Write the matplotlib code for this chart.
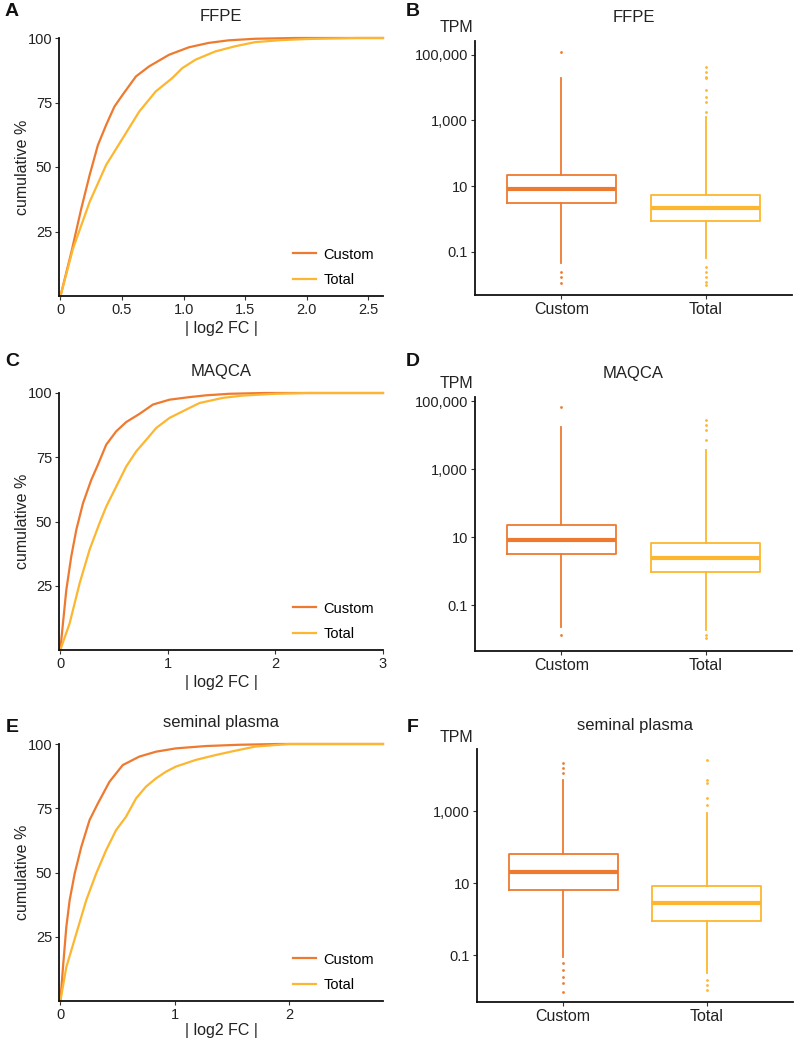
import matplotlib
matplotlib.use('Agg')
import matplotlib.pyplot as plt
import matplotlib.ticker as mticker

plt.rcParams['font.family'] = ['Liberation Sans', 'DejaVu Sans']

ORANGE = '#EE7A30'
YELLOW = '#FDB62F'

# --- ECDF curves (|log2 FC|, cumulative %) ---
ffpe_custom_x = [0, 0.089, 0.169, 0.237, 0.304, 0.371, 0.438, 0.505, 0.613, 0.72, 0.882,
                 1.043, 1.204, 1.366, 1.58, 1.9, 2.62]
ffpe_custom_y = [0, 17.1, 33.9, 46.9, 58.5, 66.3, 73.4, 78.0, 85.1, 89.0, 93.5,
                 96.4, 98.1, 99.1, 99.7, 100, 100]
ffpe_total_x = [0, 0.102, 0.237, 0.371, 0.505, 0.64, 0.774, 0.909, 0.989, 1.097, 1.258,
                1.419, 1.58, 1.8, 2.0, 2.4, 2.62]
ffpe_total_y = [0, 18.4, 36.5, 50.8, 61.1, 71.5, 79.3, 84.5, 88.3, 91.6, 94.8,
                96.8, 98.4, 99.2, 99.6, 100, 100]

maqca_custom_x = [0, 0.056, 0.102, 0.149, 0.211, 0.288, 0.35, 0.427, 0.52, 0.613, 0.737,
                  0.861, 1.015, 1.201, 1.356, 1.573, 1.9, 3.0]
maqca_custom_y = [0, 23.4, 36.4, 46.8, 57.1, 66.2, 72.1, 79.9, 85.1, 88.7, 91.9,
                  95.5, 97.4, 98.4, 99.1, 99.7, 100, 100]
maqca_total_x = [0, 0.087, 0.18, 0.272, 0.365, 0.427, 0.52, 0.613, 0.706, 0.799, 0.892,
                 1.015, 1.139, 1.294, 1.511, 1.697, 2.0, 2.3, 3.0]
maqca_total_y = [0, 10.4, 26.0, 39.0, 49.4, 55.8, 63.6, 71.4, 77.3, 81.8, 86.4,
                 90.3, 92.9, 96.1, 98.1, 99.0, 99.7, 100, 100]

semen_custom_x = [0, 0.023, 0.052, 0.081, 0.125, 0.183, 0.255, 0.328, 0.429, 0.545, 0.69,
                  0.835, 1.009, 1.27, 1.559, 1.9, 2.82]
semen_custom_y = [0, 13.2, 28.8, 39.2, 49.6, 60.0, 70.4, 76.9, 85.3, 91.8, 95.1,
                  97.0, 98.3, 99.2, 99.7, 100, 100]
semen_total_x = [0, 0.052, 0.139, 0.226, 0.313, 0.4, 0.487, 0.574, 0.661, 0.748, 0.835,
                 0.922, 1.009, 1.183, 1.357, 1.53, 1.704, 2.0, 2.82]
semen_total_y = [0, 13.2, 26.2, 39.2, 49.6, 58.7, 66.5, 71.7, 78.8, 83.4, 86.6,
                 89.2, 91.2, 93.8, 95.7, 97.4, 99.0, 100, 100]

# --- TPM boxplot summaries: q1, median, q3, whisker ends, outliers ---
ffpe_custom_box = dict(q1=3.05, med=8.1, q3=21.5, whislo=0.044, whishi=19000,
                       fliers=[0.0245, 0.017, 0.0112, 123000])
ffpe_total_box = dict(q1=0.87, med=2.15, q3=5.3, whislo=0.063, whishi=1290,
                      fliers=[0.035, 0.0245, 0.017, 0.012, 0.0095,
                              1860, 3720, 5300, 8500, 19000, 21000, 30000, 43000])

maqca_custom_box = dict(q1=3.16, med=8.1, q3=22.5, whislo=0.023, whishi=17000,
                        fliers=[0.013, 68000])
maqca_total_box = dict(q1=0.91, med=2.36, q3=6.5, whislo=0.018, whishi=3600,
                       fliers=[0.013, 0.0105, 7100, 14000, 19500, 27500])

semen_custom_box = dict(q1=6.5, med=21, q3=65, whislo=0.093, whishi=7200,
                        fliers=[0.060, 0.040, 0.026, 0.017, 0.010, 11200, 15500, 21000])
semen_total_box = dict(q1=0.92, med=2.9, q3=8.4, whislo=0.032, whishi=870,
                       fliers=[0.021, 0.015, 0.011, 1480, 2240, 5900, 7200, 26000])

groups = ['Custom', 'Total']

W, H = 800, 1040
fig = plt.figure(figsize=(W / 100, H / 100), dpi=100)


def px_axes(left, top, right, bottom):
    return fig.add_axes([left / W, 1 - bottom / H, (right - left) / W, (bottom - top) / H])


def style(ax):
    for s in ['top', 'right']:
        ax.spines[s].set_visible(False)
    for s in ['left', 'bottom']:
        ax.spines[s].set_linewidth(1.3)
        ax.spines[s].set_color('#111111')
    ax.tick_params(direction='out', length=3, width=0.8, color='#333333',
                   labelsize=10.5, labelcolor='#222222', pad=2)


def ecdf_panel(box, title, cx, cy, tx, ty, xmax, xticks, xlabels, xpad=3):
    ax = px_axes(*box)
    style(ax)
    ax.plot(cx, cy, color=ORANGE, lw=1.6, label='Custom', clip_on=False)
    ax.plot(tx, ty, color=YELLOW, lw=1.6, label='Total', clip_on=False)
    ax.set_xlim(-0.012, xmax)
    ax.set_ylim(0, 100)
    ax.set_yticks([25, 50, 75, 100])
    ax.set_xticks(xticks)
    ax.set_xticklabels(xlabels)
    ax.set_xlabel('| log2 FC |', fontsize=11.5, color='#222222', labelpad=xpad)
    ax.set_ylabel('cumulative %', fontsize=11.5, color='#222222', labelpad=-2)
    ax.set_title(title, fontsize=12, color='#222222', pad=12)
    ax.legend(loc='lower right', frameon=False, fontsize=10.5, handlelength=1.6,
              handletextpad=0.5, labelspacing=0.8, borderaxespad=0.2)
    return ax


def box_panel(box, title, stats_c, stats_t, ylim, yticks, ylabels):
    ax = px_axes(*box)
    style(ax)
    for pos, st, col in [(1, stats_c, ORANGE), (2, stats_t, YELLOW)]:
        ax.bxp([st], positions=[pos], widths=0.76, showcaps=False,
               boxprops=dict(color=col, lw=1.3),
               whiskerprops=dict(color=col, lw=1.3),
               medianprops=dict(color=col, lw=3),
               flierprops=dict(marker='o', markersize=2, markerfacecolor=col,
                               markeredgecolor='none'))
    ax.set_yscale('log')
    ax.set_ylim(*ylim)
    ax.yaxis.set_minor_locator(mticker.NullLocator())
    ax.set_yticks(yticks)
    ax.set_yticklabels(ylabels)
    ax.set_xlim(0.4, 2.6)
    ax.set_xticks([1, 2])
    ax.set_xticklabels(groups, fontsize=11.5)
    ax.set_title(title, fontsize=12, color='#222222', pad=14)
    return ax


ecdf_panel((59, 38, 383, 296), 'FFPE', ffpe_custom_x, ffpe_custom_y,
           ffpe_total_x, ffpe_total_y, 2.62,
           [0, 0.5, 1.0, 1.5, 2.0, 2.5], ['0', '0.5', '1.0', '1.5', '2.0', '2.5'])
ecdf_panel((59, 393, 383, 650), 'MAQCA', maqca_custom_x, maqca_custom_y,
           maqca_total_x, maqca_total_y, 3.0, [0, 1, 2, 3], ['0', '1', '2', '3'])
ecdf_panel((59, 744, 383, 1001), 'seminal plasma', semen_custom_x, semen_custom_y,
           semen_total_x, semen_total_y, 2.82, [0, 1, 2], ['0', '1', '2'], xpad=1)

tick_vals = [0.1, 10, 1000, 100000]
tick_labs = ['0.1', '10', '1,000', '100,000']
box_panel((475, 41, 792, 295), 'FFPE', ffpe_custom_box, ffpe_total_box,
          (10 ** -2.32, 10 ** 5.42), tick_vals, tick_labs)
box_panel((475, 397, 792, 651), 'MAQCA', maqca_custom_box, maqca_total_box,
          (10 ** -2.35, 10 ** 5.12), tick_vals, tick_labs)
box_panel((477, 749, 793, 1002), 'seminal plasma', semen_custom_box, semen_total_box,
          (10 ** -2.29, 10 ** 4.72), tick_vals[:3], tick_labs[:3])

# TPM unit labels
for y in [27, 383, 738]:
    fig.text(457 / W, 1 - y / H, 'TPM', ha='center', va='center', fontsize=11.5, color='#222222')

# panel letters
for letter, x, y in [('A', 12, 12), ('B', 413, 12), ('C', 12, 362),
                     ('D', 413, 362), ('E', 12, 727), ('F', 413, 727)]:
    fig.text(x / W, 1 - y / H, letter, ha='center', va='center',
             fontsize=14, fontweight='bold', color='#111111')

plt.savefig('out.png', dpi=100)
